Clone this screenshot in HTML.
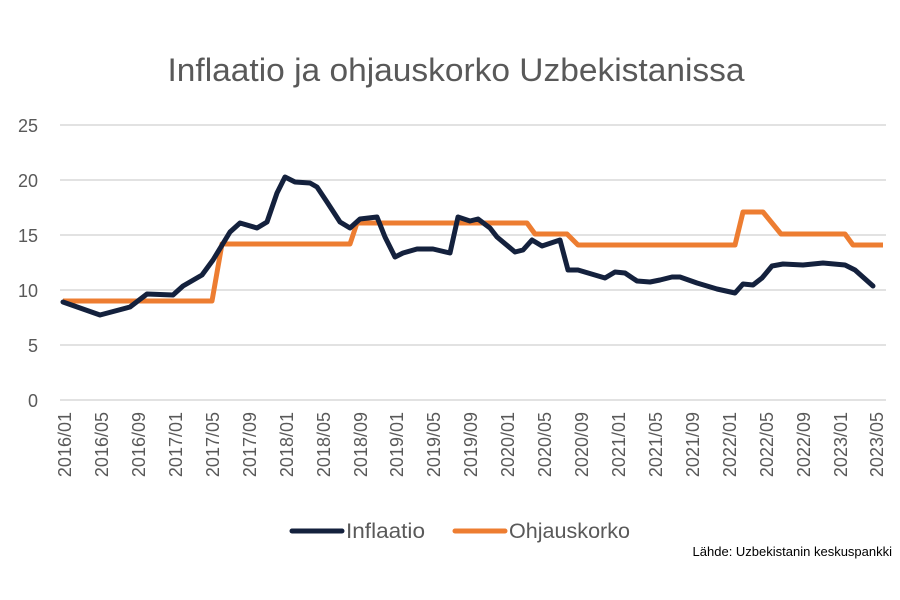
<!DOCTYPE html>
<html><head><meta charset="utf-8"><style>
body{margin:0;background:#fff;}
svg{display:block;font-family:"Liberation Sans",sans-serif;}
</style></head><body>
<svg width="900" height="600" xmlns="http://www.w3.org/2000/svg">
<text x="456" y="81" text-anchor="middle" font-size="32" fill="#595959" textLength="577" lengthAdjust="spacingAndGlyphs">Inflaatio ja ohjauskorko Uzbekistanissa</text>
<g stroke="#d9d9d9" stroke-width="1.5">
<line x1="60" y1="125" x2="886" y2="125"/><line x1="60" y1="180" x2="886" y2="180"/>
<line x1="60" y1="235" x2="886" y2="235"/><line x1="60" y1="290" x2="886" y2="290"/>
<line x1="60" y1="345" x2="886" y2="345"/><line x1="60" y1="400" x2="886" y2="400"/>
</g>
<g font-size="18" fill="#595959" text-anchor="end">
<text x="38" y="132">25</text><text x="38" y="187">20</text><text x="38" y="242">15</text>
<text x="38" y="297">10</text><text x="38" y="352">5</text><text x="38" y="407">0</text>
</g>
<polyline fill="none" stroke="#ed7d31" stroke-width="5" stroke-linejoin="round" points="63,301 212,301 222,244 350,244 357,223 527,223 535,234 567,234 578,245 735,245 743,212 763,212 781,234 845,234 853,245 883,245"/>
<polyline fill="none" stroke="#14213d" stroke-width="5" stroke-linejoin="round" stroke-linecap="round" points="63,302 100,315 130,307 147,294 173,295 183,286 202,275 213,260 230,232 240,223 257,228 267,222 277,193 285,177 295,182 310,183 317,187 327,202 340,222 350,228 360,219 377,217 385,237 395,257 403,253 417,249 433,249 450,253 458,217 470,221 478,219 490,228 497,237 515,252 523,250 532,240 542,246 560,240 568,270 578,270 605,278 615,272 625,273 637,281 650,282 660,280 672,277 680,277 697,283 717,289 735,293 743,284 753,285 762,278 772,266 783,264 803,265 823,263 845,265 855,270 873,286"/>
<g font-size="18" fill="#595959" text-anchor="end">
<text transform="translate(71,412) rotate(-90)">2016/01</text>
<text transform="translate(108,412) rotate(-90)">2016/05</text>
<text transform="translate(145,412) rotate(-90)">2016/09</text>
<text transform="translate(182,412) rotate(-90)">2017/01</text>
<text transform="translate(219,412) rotate(-90)">2017/05</text>
<text transform="translate(256,412) rotate(-90)">2017/09</text>
<text transform="translate(293,412) rotate(-90)">2018/01</text>
<text transform="translate(330,412) rotate(-90)">2018/05</text>
<text transform="translate(367,412) rotate(-90)">2018/09</text>
<text transform="translate(403,412) rotate(-90)">2019/01</text>
<text transform="translate(440,412) rotate(-90)">2019/05</text>
<text transform="translate(477,412) rotate(-90)">2019/09</text>
<text transform="translate(514,412) rotate(-90)">2020/01</text>
<text transform="translate(551,412) rotate(-90)">2020/05</text>
<text transform="translate(588,412) rotate(-90)">2020/09</text>
<text transform="translate(625,412) rotate(-90)">2021/01</text>
<text transform="translate(662,412) rotate(-90)">2021/05</text>
<text transform="translate(699,412) rotate(-90)">2021/09</text>
<text transform="translate(736,412) rotate(-90)">2022/01</text>
<text transform="translate(773,412) rotate(-90)">2022/05</text>
<text transform="translate(810,412) rotate(-90)">2022/09</text>
<text transform="translate(847,412) rotate(-90)">2023/01</text>
<text transform="translate(883,412) rotate(-90)">2023/05</text>
</g>
<line x1="292" y1="531" x2="342" y2="531" stroke="#14213d" stroke-width="5" stroke-linecap="round"/>
<text x="346" y="538" font-size="21" fill="#595959" textLength="79" lengthAdjust="spacingAndGlyphs">Inflaatio</text>
<line x1="455" y1="531" x2="505" y2="531" stroke="#ed7d31" stroke-width="5" stroke-linecap="round"/>
<text x="509" y="538" font-size="21" fill="#595959" textLength="121" lengthAdjust="spacingAndGlyphs">Ohjauskorko</text>
<text x="892" y="556" font-size="13" fill="#000" text-anchor="end">Lähde: Uzbekistanin keskuspankki</text>
</svg>
</body></html>
